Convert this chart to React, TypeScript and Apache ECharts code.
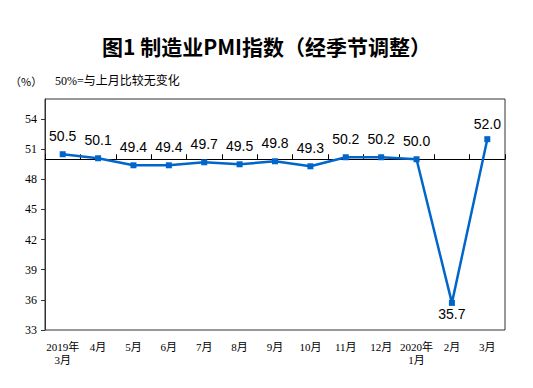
import React, { useEffect, useRef } from "react";
import * as echarts from "echarts";

const categories = [
  "2019年\n3月", "4月", "5月", "6月", "7月", "8月", "9月", "10月", "11月", "12月", "2020年\n1月", "2月", "3月",
];
const pmiValues = [50.5, 50.1, 49.4, 49.4, 49.7, 49.5, 49.8, 49.3, 50.2, 50.2, 50.0, 35.7, 52.0];
const yTicks = [33, 36, 39, 42, 45, 48, 51, 54];
const yMin = 33;
const yMax = 56;
const baseline = 50;
const titleText = "图1 制造业PMI指数（经季节调整）";
const unitText = "（%）";
const noteText = "50%=与上月比较无变化";

export default function App() {
  const ref = useRef<HTMLDivElement>(null);
  useEffect(() => {
    if (!ref.current) return;
    const chart = echarts.init(ref.current, null, { renderer: "svg" });
    const gridTop = 99;
    const gridBottom = 58;
    const gridHeight = 388 - gridTop - gridBottom;
    const baseOffset = -gridHeight * (baseline - yMin) / (yMax - yMin);
    const data = pmiValues.map((v, i) => {
      let label: any = { position: "top", distance: 8 };
      if (i === pmiValues.length - 2) label = { position: "bottom", distance: 1 };
      if (i === pmiValues.length - 1) label = { position: "top", distance: 5 };
      return { value: v, label };
    });
    chart.setOption({
      animation: false,
      backgroundColor: "#ffffff",
      title: {
        text: titleText,
        left: "center",
        top: 30,
        textStyle: {
          fontFamily: "Noto Sans CJK SC",
          fontWeight: "bold",
          fontSize: 21,
          color: "#000",
        },
      },
      graphic: [
        {
          type: "text",
          left: 10,
          top: 75,
          style: { text: unitText, fontFamily: "Noto Sans CJK SC", fontSize: 11, fill: "#000" },
        },
        {
          type: "text",
          left: 55,
          top: 75,
          style: { text: noteText, fontFamily: "Liberation Serif, Noto Sans CJK SC", fontSize: 12, fill: "#000" },
        },
      ],
      grid: {
        left: 45,
        right: 28,
        top: gridTop,
        bottom: gridBottom,
        show: true,
        borderColor: "#333",
        borderWidth: 1,
      },
      xAxis: [
        {
          type: "category",
          data: categories,
          position: "bottom",
          boundaryGap: true,
          axisLine: { show: false },
          axisTick: { show: false },
          axisLabel: {
            interval: 0,
            margin: 10,
            fontFamily: "Liberation Serif, Noto Sans CJK SC",
            fontSize: 11,
            lineHeight: 13,
            color: "#000",
          },
        },
        {
          type: "category",
          data: categories,
          position: "bottom",
          offset: baseOffset,
          boundaryGap: true,
          axisLine: { show: true, lineStyle: { color: "#000", width: 1 } },
          axisTick: { show: true, inside: true, length: 5, interval: 0, lineStyle: { color: "#000" } },
          axisLabel: { show: false },
        },
      ],
      yAxis: {
        type: "value",
        min: yMin,
        max: yMax,
        interval: 3,
        axisLine: { show: true, lineStyle: { color: "#333" } },
        axisTick: { show: true, length: 4, customValues: yTicks, lineStyle: { color: "#333" } },
        axisLabel: {
          customValues: yTicks,
          margin: 8,
          fontFamily: "Liberation Serif",
          fontSize: 12,
          color: "#000",
        },
        splitLine: { show: false },
      },
      series: [
        {
          type: "line",
          data,
          xAxisIndex: 0,
          symbol: "rect",
          symbolSize: 6,
          lineStyle: { color: "#0066CC", width: 2.5 },
          itemStyle: { color: "#0066CC" },
          label: {
            show: true,
            fontFamily: "Liberation Sans, Arial",
            fontSize: 14,
            color: "#000",
            formatter: (p: any) => Number(p.value).toFixed(1),
          },
          z: 3,
        },
      ],
    });
    return () => chart.dispose();
  }, []);
  return (
    <div
      ref={ref}
      style={{ position: "fixed", left: 0, top: 0, width: 533, height: 388 }}
    />
  );
}
